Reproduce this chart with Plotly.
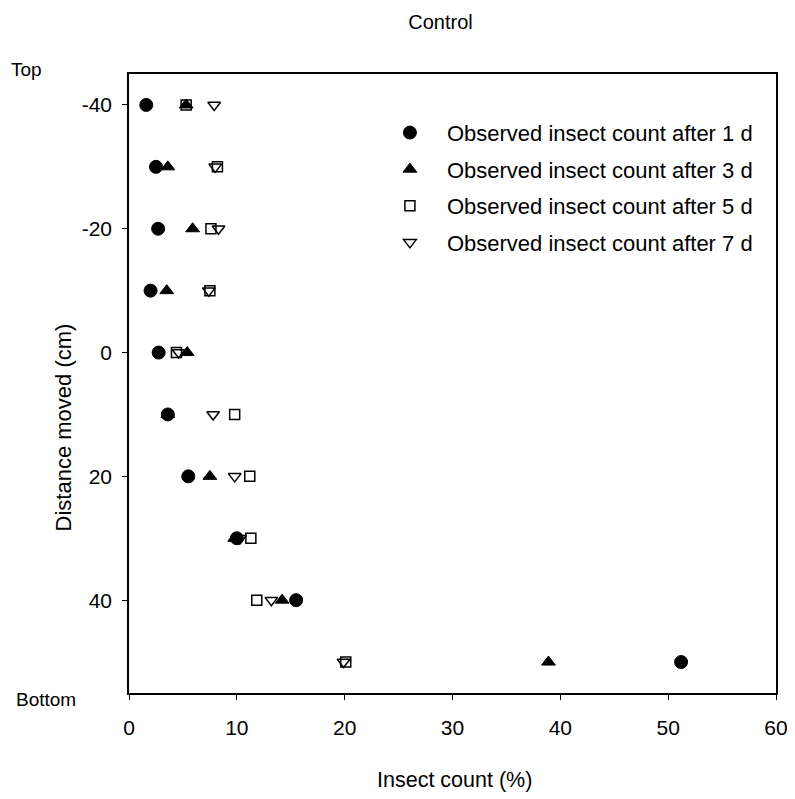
import plotly.graph_objects as go

distance = [-40, -30, -20, -10, 0, 10, 20, 30, 40, 50]
count_1d = [1.6, 2.5, 2.7, 2.0, 2.75, 3.6, 5.5, 10.0, 15.5, 51.2]
count_3d = [5.3, 3.6, 5.9, 3.5, 5.4, 3.6, 7.5, 9.8, 14.2, 38.9]
count_5d = [5.3, 8.2, 7.6, 7.5, 4.4, 9.8, 11.2, 11.3, 11.85, 20.1]
count_7d = [7.9, 8.0, 8.3, 7.4, 4.6, 7.8, 9.8, 10.3, 13.2, 19.9]

series_names = [
    "Observed insect count after 1 d",
    "Observed insect count after 3 d",
    "Observed insect count after 5 d",
    "Observed insect count after 7 d",
]
x_ticks = [0, 10, 20, 30, 40, 50, 60]
y_ticks = [-40, -20, 0, 20, 40]
y_tick_labels = ["-40", "-20", "0", "20", "40"]

FONT = "Liberation Sans, Arial, sans-serif"

fig = go.Figure()
styles = [
    dict(symbol="circle", size=13, color="black", line=dict(color="black", width=1)),
    dict(symbol="triangle-up", size=12, color="black", line=dict(color="black", width=1)),
    dict(symbol="square-open", size=10, color="black", line=dict(color="black", width=1.5)),
    dict(symbol="triangle-down-open", size=11, color="black", line=dict(color="black", width=1.5)),
]
for i, (vals, name) in enumerate(zip([count_1d, count_3d, count_5d, count_7d], series_names)):
    fig.add_trace(go.Scatter(
        x=vals, y=distance, mode="markers", name=name,
        marker=styles[i], legendgroup=f"g{i}",
    ))

fig.update_layout(
    width=795, height=799,
    margin=dict(l=121, r=27, t=66, b=114),
    paper_bgcolor="white", plot_bgcolor="white",
    font=dict(family=FONT, size=20, color="black"),
    title=dict(text="Control", x=0.544, xanchor="center", y=0.982, yanchor="middle",
               font=dict(size=20)),
    showlegend=True,
    legend=dict(x=0.377, y=0.939, xanchor="left", yanchor="top",
                bgcolor="rgba(0,0,0,0)", font=dict(size=22),
                traceorder="grouped", tracegroupgap=5, itemwidth=64),
    xaxis=dict(range=[0, 60], tickvals=x_ticks, showgrid=False, zeroline=False,
               showline=True, linecolor="black", linewidth=1.5, mirror=True,
               ticks="outside", ticklen=5, tickcolor="black", tickfont=dict(size=21),
               ticklabelstandoff=10),
    yaxis=dict(range=[55, -45], tickvals=y_ticks, ticktext=y_tick_labels,
               showgrid=False, zeroline=False,
               showline=True, linecolor="black", linewidth=1.5, mirror=True,
               ticks="outside", ticklen=5, tickcolor="black", tickfont=dict(size=21),
               ticklabelstandoff=6),
)
fig.add_annotation(text="Insect count (%)", xref="paper", yref="paper", x=0.503, y=-0.14,
                   xanchor="center", yanchor="middle", showarrow=False, font=dict(size=21.5))
fig.add_annotation(text="Distance moved (cm)", xref="paper", yref="paper", x=-0.102, y=0.429,
                   xanchor="center", yanchor="middle", textangle=-90, showarrow=False,
                   font=dict(size=22))
fig.add_annotation(text="Top", xref="paper", yref="paper", x=-0.185, y=1.008,
                   xanchor="left", yanchor="middle", showarrow=False, font=dict(size=19))
fig.add_annotation(text="Bottom", xref="paper", yref="paper", x=-0.177, y=-0.011,
                   xanchor="left", yanchor="middle", showarrow=False, font=dict(size=19))

fig.write_html("out.html")
